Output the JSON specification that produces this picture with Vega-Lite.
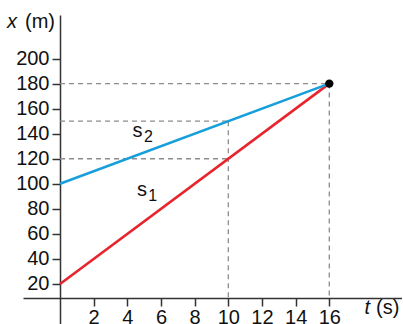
{
  "$schema": "https://vega.github.io/schema/vega-lite/v6.json",
  "width": 379,
  "height": 309,
  "autosize": {"type": "none"},
  "padding": {"left": 23, "top": 15, "right": 0, "bottom": 0},
  "config": {"view": {"stroke": null}, "font": "Liberation Sans"},
  "datasets": {
    "lines": [
      {"series": "s1", "t": 0, "x": 20},
      {"series": "s1", "t": 16, "x": 180},
      {"series": "s2", "t": 0, "x": 100},
      {"series": "s2", "t": 16, "x": 180}
    ],
    "guides": [
      {"t": 0, "t2": 16, "x": 180, "x2": 180},
      {"t": 0, "t2": 10, "x": 150, "x2": 150},
      {"t": 0, "t2": 10, "x": 120, "x2": 120},
      {"t": 10, "t2": 10, "x": 150, "x2": 9},
      {"t": 16, "t2": 16, "x": 180, "x2": 9}
    ],
    "meet": [{"t": 16, "x": 180}],
    "mainText": [
      {"t": 4.6, "x": 142, "label": "s"},
      {"t": 4.87, "x": 95, "label": "s"}
    ],
    "subText": [
      {"t": 5.25, "x": 137.5, "label": "2"},
      {"t": 5.5, "x": 90.3, "label": "1"}
    ],
    "italicText": [
      {"t": -2.55, "x": 229.6, "label": "x"},
      {"t": 18.42, "x": 1, "label": "t"}
    ],
    "unitText": [
      {"t": -0.3, "x": 229.6, "label": "(m)"},
      {"t": 20.16, "x": 1, "label": "(s)"}
    ]
  },
  "encoding": {
    "x": {
      "field": "t",
      "type": "quantitative",
      "scale": {"domain": [-2.2, 20.32], "nice": false, "zero": false},
      "axis": {
        "orient": "bottom",
        "offset": -26,
        "values": [2, 4, 6, 8, 10, 12, 14, 16],
        "grid": false,
        "title": null,
        "tickSize": 8,
        "tickWidth": 1.5,
        "tickColor": "#333",
        "domainColor": "#333",
        "domainWidth": 1.5,
        "labelFontSize": 20,
        "labelColor": "#111",
        "labelPadding": 1,
        "labelFont": "Liberation Sans"
      }
    },
    "y": {
      "field": "x",
      "type": "quantitative",
      "scale": {"domain": [-12, 234.8], "nice": false, "zero": false},
      "axis": {
        "orient": "left",
        "offset": -37,
        "values": [20, 40, 60, 80, 100, 120, 140, 160, 180, 200],
        "grid": false,
        "title": null,
        "tickSize": 8,
        "tickWidth": 1.5,
        "tickColor": "#333",
        "domainColor": "#333",
        "domainWidth": 1.5,
        "labelFontSize": 20,
        "labelColor": "#111",
        "labelPadding": 3,
        "labelFont": "Liberation Sans"
      }
    }
  },
  "layer": [
    {
      "data": {"name": "guides"},
      "mark": {"type": "rule", "strokeDash": [5, 4], "color": "#8c8c8c", "strokeWidth": 1.3},
      "encoding": {"x2": {"field": "t2"}, "y2": {"field": "x2"}}
    },
    {
      "data": {"name": "lines"},
      "mark": {"type": "line", "strokeWidth": 2.6},
      "encoding": {
        "color": {
          "field": "series",
          "type": "nominal",
          "scale": {"domain": ["s1", "s2"], "range": ["#e8242c", "#179fdb"]},
          "legend": null
        }
      }
    },
    {
      "data": {"name": "meet"},
      "mark": {"type": "circle", "size": 70, "color": "black", "opacity": 1}
    },
    {
      "data": {"name": "mainText"},
      "mark": {"type": "text", "fontSize": 20, "align": "center", "baseline": "middle", "color": "#111"},
      "encoding": {"text": {"field": "label"}}
    },
    {
      "data": {"name": "subText"},
      "mark": {"type": "text", "fontSize": 16, "align": "center", "baseline": "middle", "color": "#111"},
      "encoding": {"text": {"field": "label"}}
    },
    {
      "data": {"name": "italicText"},
      "mark": {"type": "text", "fontSize": 20, "fontStyle": "italic", "align": "right", "baseline": "middle", "color": "#111"},
      "encoding": {"text": {"field": "label"}}
    },
    {
      "data": {"name": "unitText"},
      "mark": {"type": "text", "fontSize": 20, "align": "right", "baseline": "middle", "color": "#111"},
      "encoding": {"text": {"field": "label"}}
    }
  ]
}
